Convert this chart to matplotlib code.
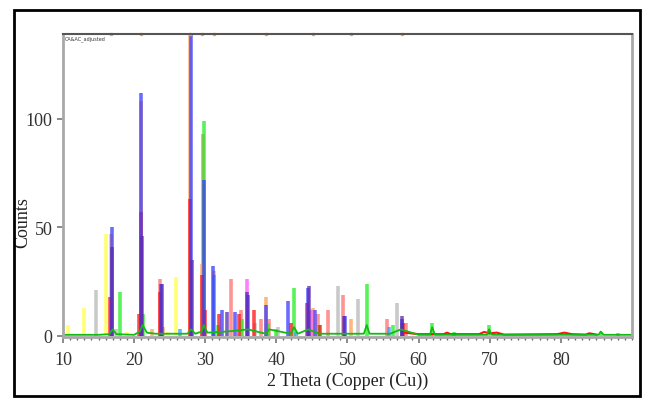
import matplotlib
matplotlib.use("Agg")
import matplotlib.pyplot as plt
from matplotlib.patches import Rectangle
from matplotlib.ticker import MultipleLocator

#############################################
# DATOS (posiciones 2-theta y alturas)
#############################################

orange_pos = [16.8, 20.9, 27.9, 29.6, 31.3, 38.6, 45.2, 50.5, 57.6, 22.5, 24.0]
orange_h = [47, 108, 145, 33, 30, 18, 13, 8, 6, 3, 4]

blue_pos = [16.9, 21.0, 27.95, 29.8, 31.15, 23.8, 32.3, 34.2, 36.0, 38.5, 41.7, 44.5, 45.4, 49.6, 57.6]
blue_h = [50, 112, 145, 72, 32, 24, 12, 11, 19, 14, 16, 22, 12, 9, 8]

red_pos = [16.6, 20.7, 20.95, 27.8, 29.5, 30.0, 23.6, 32.0, 34.8, 36.9, 42.0, 44.3, 46.2, 57.8]
red_h = [18, 10, 57, 63, 28, 12, 20, 10, 10, 12, 6, 15, 5, 6]

salmon_pos = [29.65, 33.6, 23.65, 35.0, 47.2, 49.4, 55.5, 58.2, 39.0, 45.9, 37.8]
salmon_h = [93, 26, 26, 12, 12, 19, 8, 6, 8, 10, 8]

green_pos = [18.0, 29.85, 42.5, 52.7, 35.2, 38.8, 56.4, 61.9, 69.9, 65.0, 85.6, 88.0, 21.2, 31.8, 40.0, 46.0]
green_h = [20, 99, 22, 24, 8, 6, 5, 6, 5, 2, 2, 1.5, 10, 5, 3, 5]

yellow_pos = [10.7, 13.0, 16.05, 25.9, 19.0, 24.8]
yellow_h = [5, 13, 47, 27, 2, 2]

gray_pos = [14.6, 48.6, 51.5, 56.9, 37.0, 40.3, 17.5]
gray_h = [21, 23, 17, 15, 6, 4, 3]

purple_pos = [16.95, 21.15, 28.1, 35.9, 44.6, 49.5, 57.6, 33.0, 23.9]
purple_h = [41, 46, 35, 20, 23, 9, 9, 11, 24]

magenta_pos = [35.9, 44.8]
magenta_h = [26, 12]

lightblue_pos = [31.2, 26.5, 55.8, 42.8]
lightblue_h = [28, 3, 4, 2]

# patrón medido (línea verde cerca de la base)
meas_x = [10, 12, 15, 16.5, 17, 17.5, 20, 20.8, 21.2, 21.8, 23, 27.5, 28, 28.6, 29.5, 29.8,
          30.3, 33, 36, 38.5, 39, 42, 42.5, 43, 44.5, 46, 50, 52.3, 52.7, 53.1, 56, 57.5,
          60, 61.6, 61.9, 62.3, 65, 69.6, 69.9, 70.3, 75, 80, 85.3, 85.6, 86, 88, 90]
meas_y = [0.5, 0.5, 0.5, 0.8, 3, 0.8, 0.5, 2, 5, 1.5, 1, 1, 3, 1, 2, 5,
          1.5, 2, 3, 1, 3, 1, 4, 1, 3, 1, 1, 1, 5, 1, 1, 3,
          0.5, 0.5, 4, 0.5, 0.5, 0.5, 3, 0.5, 0.5, 0.5, 0.5, 2, 0.5, 0.5, 0.5]

# curva roja cerca de la base
red_bg_x = [58, 60, 62, 63.5, 64, 64.5, 68.5, 69.2, 70, 71, 72, 79.5, 80.5, 81.5, 83.5, 84, 85]
red_bg_y = [1.5, 0.8, 0.8, 0.8, 1.5, 0.8, 0.8, 1.8, 1.2, 1.5, 0.6, 0.8, 1.5, 0.8, 0.6, 1.2, 0.6]

#############################################
# GRÁFICO
#############################################

def main():
    plt.rcParams["font.family"] = ["Liberation Serif", "DejaVu Serif"]
    fig = plt.figure(figsize=(6.58, 4.14), dpi=100)
    ax = fig.add_axes([0.0957, 0.1836, 0.8648, 0.7319])

    phases = [
        (gray_pos, gray_h, "#b8b8b8"),
        (yellow_pos, yellow_h, "#ffff44"),
        (salmon_pos, salmon_h, "#ff7070"),
        (green_pos, green_h, "#22ee22"),
        (orange_pos, orange_h, "#ffa050"),
        (red_pos, red_h, "#ff1010"),
        (lightblue_pos, lightblue_h, "#3399ff"),
        (magenta_pos, magenta_h, "#ff55ff"),
        (blue_pos, blue_h, "#3a3aff"),
        (purple_pos, purple_h, "#5a2ab0"),
    ]
    for pos, h, color in phases:
        ax.vlines(pos, 0, h, colors=color, linewidth=2.6, alpha=0.75)

    ax.plot(red_bg_x, red_bg_y, color="#ff1010", linewidth=1.5)
    ax.plot(meas_x, meas_y, color="#11bb11", linewidth=1.3)

    # marcas en el borde superior
    ax.plot(orange_pos[:9], [139] * 9, linestyle="none", marker="s", markersize=1.5,
            color="#ffa050", clip_on=False)

    ax.set_xlim(10, 90)
    ax.set_ylim(-0.5, 139)
    ax.set_xticks([10, 20, 30, 40, 50, 60, 70, 80])
    ax.set_yticks([0, 50, 100])
    ax.xaxis.set_minor_locator(MultipleLocator(1))

    for side in ["left", "bottom", "right"]:
        ax.spines[side].set_color("#a8a8a8")
        ax.spines[side].set_linewidth(2)
    ax.spines["top"].set_color("#555555")
    ax.spines["top"].set_linewidth(1.5)

    ax.tick_params(axis="both", which="major", length=4, width=1.2, color="#777777",
                   labelsize=13, labelcolor="#333333")
    ax.tick_params(axis="x", which="major", pad=6)
    ax.tick_params(axis="x", which="minor", length=2.5, width=1, color="#666666")
    ax.set_xlabel("2 Theta (Copper (Cu))", fontsize=13, color="#222222", labelpad=3)
    ax.set_ylabel("Counts", fontsize=13, color="#222222")
    ax.yaxis.set_label_coords(-0.056, 0.38)

    ax.text(0.003, 0.997, "CA&AC_adjusted", transform=ax.transAxes, fontsize=3.5,
            family="DejaVu Sans", va="top", ha="left", color="#333333")

    fig.patches.append(Rectangle((0.0213, 0.041), 0.951, 0.932, transform=fig.transFigure,
                                 fill=False, edgecolor="black", linewidth=2))

    plt.savefig("out.png", dpi=100)
    plt.close()

if __name__ == "__main__":
    main()
